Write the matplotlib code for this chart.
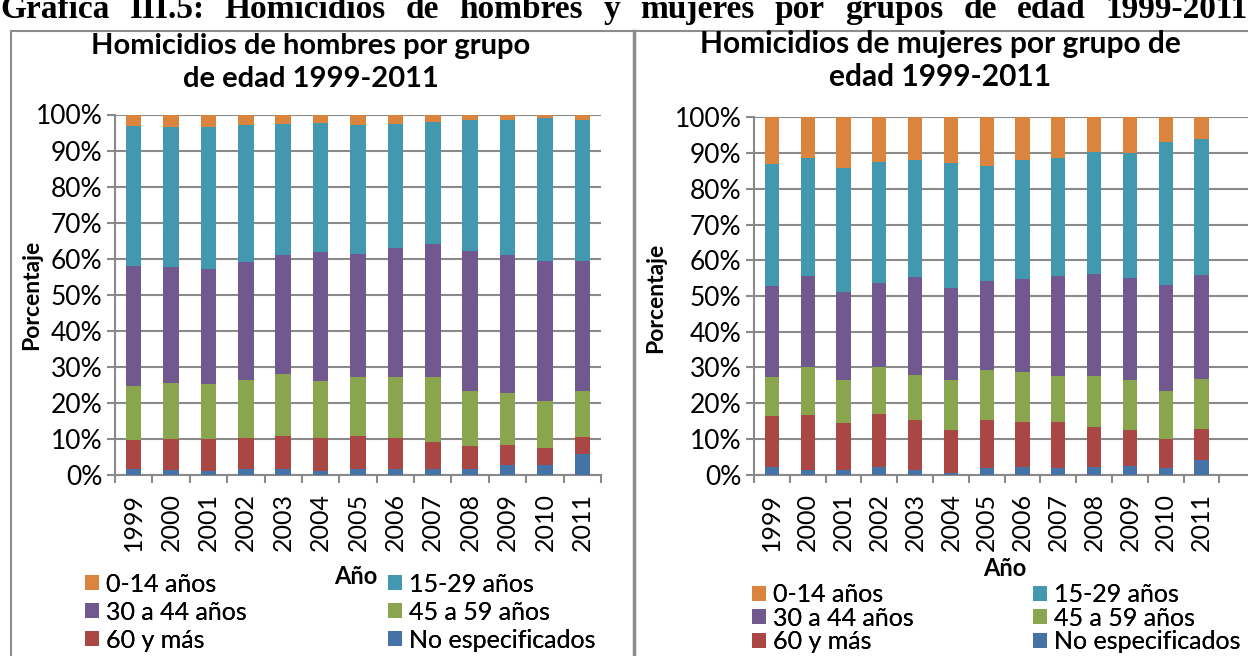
import numpy as np
import matplotlib.pyplot as plt
from matplotlib.lines import Line2D

W, H = 1248, 656

years = ['1999', '2000', '2001', '2002', '2003', '2004', '2005',
         '2006', '2007', '2008', '2009', '2010', '2011']

labels = ['0-14 años', '15-29 años', '30 a 44 años', '45 a 59 años',
          '60 y más', 'No especificados']
colors = ['#DB843D', '#4198AF', '#71588F', '#89A54E', '#AA4643', '#4572A7']

# hombres (% por grupo de edad)
h_noesp = [1.8, 1.4, 1.2, 1.6, 1.8, 1.2, 1.8, 1.8, 1.6, 1.6, 2.7, 2.8, 5.8]
h_60 = [7.9, 8.5, 8.7, 8.6, 9.0, 9.2, 9.0, 8.6, 7.6, 6.5, 5.6, 4.7, 4.8]
h_45 = [15.1, 15.5, 15.3, 16.1, 17.1, 15.7, 16.5, 16.7, 17.9, 15.2, 14.5, 13.1, 12.8]
h_30 = [33.1, 32.3, 31.9, 32.8, 33.2, 35.8, 34.0, 35.9, 37.0, 38.7, 38.1, 38.7, 36.1]
h_15 = [38.9, 38.9, 39.4, 37.9, 36.2, 35.7, 35.8, 34.3, 33.8, 36.4, 37.5, 39.6, 39.1]
h_0 = [3.2, 3.4, 3.5, 3.0, 2.7, 2.4, 2.9, 2.7, 2.1, 1.6, 1.6, 1.1, 1.4]

# mujeres
m_noesp = [2.1, 1.4, 1.4, 2.1, 1.3, 0.5, 1.8, 2.1, 2.0, 2.1, 2.3, 1.8, 4.0]
m_60 = [14.4, 15.4, 13.2, 15.0, 13.9, 12.0, 13.6, 12.7, 12.8, 11.3, 10.2, 8.2, 8.8]
m_45 = [10.7, 13.2, 11.8, 13.1, 12.6, 13.9, 13.8, 14.0, 12.7, 14.1, 13.9, 13.5, 14.1]
m_30 = [25.7, 25.5, 24.8, 23.5, 27.5, 25.8, 25.1, 26.0, 28.1, 28.7, 28.6, 29.6, 29.0]
m_15 = [33.9, 33.2, 34.6, 33.9, 32.7, 35.0, 32.2, 33.3, 33.0, 34.0, 34.9, 39.9, 38.0]
m_0 = [13.2, 11.3, 14.2, 12.4, 12.0, 12.8, 13.5, 11.9, 11.4, 9.8, 10.1, 7.0, 6.1]

FONT = 'Lato'
GRID = '#8A8A8A'

plt.rcParams['font.family'] = [FONT, 'DejaVu Sans']


def fx(px):
    return px / W


def fy(px):
    return 1 - px / H


def draw_panel(ax, series, bar_w, xmax):
    # series go from the top group down; stack them from the bottom
    x = np.arange(len(years))
    bottom = np.zeros(len(years))
    bars = {}
    for lab, col, vals in reversed(list(zip(labels, colors, series))):
        v = np.array(vals) / 100.0
        bars[lab] = ax.bar(x, v, bar_w, bottom=bottom, color=col,
                           edgecolor='none', zorder=3)
        bottom = bottom + v
    ax.set_ylim(0, 1)
    ax.set_xlim(-0.5, xmax)
    ticks = np.arange(0, 1.01, 0.1)
    ax.set_yticks(ticks)
    ax.set_yticklabels([f'{int(round(t * 100))}%' for t in ticks])
    ax.set_xticks(x)
    ax.set_xticklabels(years, rotation=90)
    ax.set_xticks(np.arange(-0.5, len(years), 1.0), minor=True)
    ax.tick_params(axis='x', which='major', length=0, pad=13, labelsize=18)
    ax.tick_params(axis='x', which='minor', length=6, width=1.5,
                   color=GRID, direction='out')
    ax.tick_params(axis='y', length=6, width=1.5, color=GRID,
                   direction='out', labelsize=19, pad=3)
    ax.yaxis.grid(True, color=GRID, linewidth=1.5, zorder=0)
    ax.set_axisbelow(True)
    for s in ['top', 'right']:
        ax.spines[s].set_visible(False)
    for s in ['left', 'bottom']:
        ax.spines[s].set_color(GRID)
        ax.spines[s].set_linewidth(1.5)
    return bars


def draw_legend(fig, bars, x1, x2, ymid, spacing):
    col1 = ['0-14 años', '30 a 44 años', '60 y más']
    col2 = ['15-29 años', '45 a 59 años', 'No especificados']
    for xx, names in [(x1, col1), (x2, col2)]:
        leg = fig.legend([bars[n] for n in names], names, loc='center left',
                         bbox_to_anchor=(fx(xx), fy(ymid)), frameon=False,
                         fontsize=18, handlelength=0.55, handleheight=0.55,
                         handletextpad=0.3, labelspacing=spacing,
                         borderpad=0, borderaxespad=0)
        fig.add_artist(leg)


fig = plt.figure(figsize=(W / 100, H / 100), dpi=100)

# left panel: hombres
ax1 = fig.add_axes([fx(115), fy(475), fx(486), 360.5 / H])
b1 = draw_panel(ax1, [h_0, h_15, h_30, h_45, h_60, h_noesp], 0.415, 12.5)

# right panel: mujeres, plot area runs past the page edge
ax2 = fig.add_axes([fx(754), fy(474.7), fx(W - 754), 357.4 / H])
b2 = draw_panel(ax2, [m_0, m_15, m_30, m_45, m_60, m_noesp], 0.40,
                12.5 + (W - 754 - 13 * 35.8) / 35.8)

# titles
fig.text(fx(311), fy(46), 'Homicidios de hombres por grupo', ha='center',
         va='center', fontsize=21, fontweight='bold')
fig.text(fx(311), fy(79), 'de edad 1999-2011', ha='center',
         va='center', fontsize=21, fontweight='bold')
fig.text(fx(940), fy(44), 'Homicidios de mujeres por grupo de', ha='center',
         va='center', fontsize=21.5, fontweight='bold')
fig.text(fx(940), fy(77), 'edad 1999-2011', ha='center',
         va='center', fontsize=21.5, fontweight='bold')

fig.text(fx(32), fy(295), 'Porcentaje', rotation=90, ha='center',
         va='center', fontsize=16.5, fontweight='bold')
fig.text(fx(656), fy(298), 'Porcentaje', rotation=90, ha='center',
         va='center', fontsize=16.5, fontweight='bold')
fig.text(fx(356), fy(576), 'Año', ha='center', va='center',
         fontsize=17, fontweight='bold')
fig.text(fx(1005), fy(569), 'Año', ha='center', va='center',
         fontsize=17, fontweight='bold')

draw_legend(fig, b1, 85, 388, 612, 0.2)
draw_legend(fig, b2, 752, 1033, 618, 0.02)

# panel frames
frame = dict(color='#8C8C8C', transform=fig.transFigure)
fig.add_artist(Line2D([fx(11), fx(11)], [fy(31), 0], linewidth=1.5, **frame))
fig.add_artist(Line2D([fx(11), 1], [fy(31), fy(31)], linewidth=1.5, **frame))
fig.add_artist(Line2D([fx(633.5), fx(633.5)], [fy(31), 0], linewidth=2.5, **frame))

# page heading, justified across the width and cut at the top
heading = 'Gráfica III.5: Homicidios de hombres y mujeres por grupos de edad 1999-2011'
words = heading.split()
renderer = fig.canvas.get_renderer()
txts = [fig.text(0, fy(18), w, fontsize=24, fontweight='bold',
                 family='Liberation Serif', va='baseline') for w in words]
widths = [t.get_window_extent(renderer).width for t in txts]
gap = (W - sum(widths)) / (len(words) - 1)
pos = 0
for t, wd in zip(txts, widths):
    t.set_x(fx(pos))
    pos += wd + gap

fig.savefig('out.png', dpi=100)
